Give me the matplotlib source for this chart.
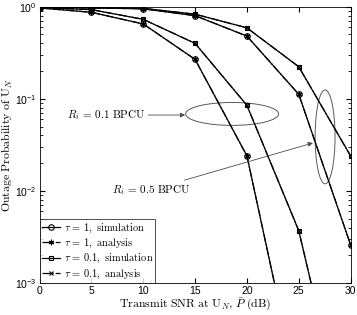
import numpy as np
import matplotlib
matplotlib.use("Agg")
import matplotlib.pyplot as plt
from matplotlib.patches import Ellipse

plt.rcParams['mathtext.fontset'] = 'cm'
plt.rcParams['font.family'] = ['Liberation Sans', 'DejaVu Sans']

# data
snr = [0, 5, 10, 15, 20, 25, 30]
tau1_r01 = [0.97, 0.87, 0.65, 0.268, 0.024, 6e-5, 2e-7]
tau01_r01 = [0.98, 0.93, 0.73, 0.40, 0.085, 0.0037, 1.5e-5]
tau1_r05 = [0.99, 0.97, 0.95, 0.80, 0.48, 0.112, 0.0026]
tau01_r05 = [0.995, 0.98, 0.96, 0.83, 0.59, 0.223, 0.024]

labels = [r'$\tau\,=\,1\mathrm{,\ simulation}$',
          r'$\tau\,=\,1\mathrm{,\ analysis}$',
          r'$\tau\,=\,0.1\mathrm{,\ simulation}$',
          r'$\tau\,=\,0.1\mathrm{,\ analysis}$']

fig = plt.figure(figsize=(3.57, 3.15), dpi=100)
ax = fig.add_axes([0.111, 0.1016, 0.871, 0.877])

asterisk = (6, 2, 0)
ms = 4
lw = 0.9
for i, (t1, t01) in enumerate([(tau1_r01, tau01_r01), (tau1_r05, tau01_r05)]):
    ax.plot(snr, t1, '-', color='k', lw=lw, marker='o', ms=ms, mfc='none', mew=0.8,
            label=labels[0] if i == 0 else None)
    ax.plot(snr, t1, '-.', color='k', lw=lw, marker=asterisk, ms=ms, mew=0.8,
            label=labels[1] if i == 0 else None)
    ax.plot(snr, t01, '-', color='k', lw=lw, marker='s', ms=ms - 0.5, mfc='none', mew=0.8,
            label=labels[2] if i == 0 else None)
    ax.plot(snr, t01, '-.', color='k', lw=lw, marker='x', ms=ms - 1, mew=0.8,
            label=labels[3] if i == 0 else None)

ax.set_yscale('log')
ax.set_xlim(0, 30)
ax.set_ylim(1e-3, 1)
ax.set_xticks([0, 5, 10, 15, 20, 25, 30])
ax.tick_params(which='both', direction='in', top=True, right=True, labelsize=7.5)
ax.tick_params(which='major', length=3.5, pad=2.5)
ax.tick_params(which='minor', length=2)
for s in ax.spines.values():
    s.set_linewidth(0.6)

ax.set_xlabel(r'$\mathrm{Transmit\ SNR\ at\ U}_N\mathrm{,}\ \bar{P}\ \mathrm{(dB)}$', fontsize=8.5, labelpad=0)
ax.set_ylabel(r'$\mathrm{Outage\ Probability\ of\ U}_N$', fontsize=8.5, labelpad=0)

# ellipses and annotations
ax.add_patch(Ellipse((0.619, 0.612), 0.299, 0.083, transform=ax.transAxes,
                     fill=False, ec='0.35', lw=0.7))
ax.add_patch(Ellipse((0.918, 0.529), 0.064, 0.34, transform=ax.transAxes,
                     fill=False, ec='0.35', lw=0.7))
ax.annotate(r'$R_i\,=\,0.1\ \mathrm{BPCU}$', xy=(0.468, 0.608), xytext=(0.34, 0.608),
            xycoords='axes fraction', textcoords='axes fraction', ha='right', va='center',
            fontsize=8, arrowprops=dict(arrowstyle='-|>', color='0.3', lw=0.6,
                                        mutation_scale=7, shrinkA=0, shrinkB=0))
ax.annotate(r'$R_i\,=\,0.5\ \mathrm{BPCU}$', xy=(0.879, 0.507), xytext=(0.484, 0.337),
            xycoords='axes fraction', textcoords='axes fraction', ha='right', va='center',
            fontsize=8, arrowprops=dict(arrowstyle='-|>', color='0.3', lw=0.6,
                                        mutation_scale=7, shrinkA=0, shrinkB=0))

leg = ax.legend(loc='lower left', fontsize=7.5, frameon=True, fancybox=False,
                edgecolor='k', borderaxespad=0, handlelength=1.8, handletextpad=0.3,
                labelspacing=0.2, borderpad=0.2)
leg.get_frame().set_linewidth(0.6)

fig.savefig('out.png', dpi=100)
